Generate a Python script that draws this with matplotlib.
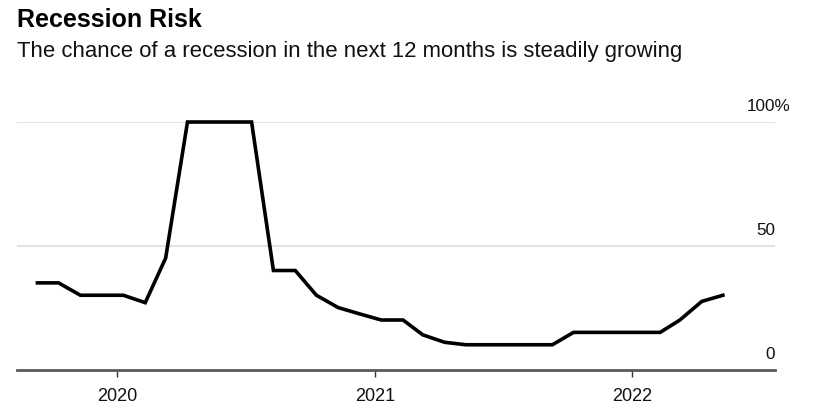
from matplotlib import pyplot as plt
import pandas as pd

plt.rcParams['font.family'] = ['Liberation Sans', 'DejaVu Sans']

# Monthly recession probability, Sep 2019 - May 2022 (%)
months = pd.date_range('2019-09-01', '2022-05-01', freq='MS') + pd.Timedelta(days=9)
risk = [35, 35, 30, 30,                                  # Sep-Dec 2019
        30, 27, 45, 100, 100, 100, 100, 40, 40, 30, 25, 22.5,  # 2020
        20, 20, 14, 11, 10, 10, 10, 10, 10, 15, 15, 15,  # 2021
        15, 15, 20, 27.5, 30]                            # Jan-May 2022

year_ticks = pd.to_datetime(['2020-01-01', '2021-01-01', '2022-01-01'])
year_labels = ['2020', '2021', '2022']
y_levels = [0, 50, 100]
y_labels = ['0', '50', '100%']

fig = plt.figure(figsize=(8.15, 4.17), dpi=100)
ax = fig.add_axes([17/815, 1 - 369.5/417, (775 - 17)/815, (369.5 - 122)/417])

ax.plot(months, risk, color='black', lw=2.6, solid_joinstyle='miter', clip_on=False, zorder=3)

ax.set_xlim(pd.Timestamp('2019-08-12'), pd.Timestamp('2022-07-23'))
ax.set_ylim(0, 100)

for v in y_levels[1:]:
    ax.axhline(v, color='#dddddd', lw=1.2, zorder=1)

# right-side value labels sitting above the gridlines
for v, lab in zip(y_levels, y_labels):
    xpos = 1.0198 if lab.endswith('%') else 1.0
    ax.text(xpos, v + 4.4, lab, transform=ax.get_yaxis_transform(),
            ha='right', va='baseline', fontsize=12.3, color='#111111')

for s in ['top', 'right', 'left']:
    ax.spines[s].set_visible(False)
ax.spines['bottom'].set_color('#5a5a5a')
ax.spines['bottom'].set_linewidth(2)
ax.set_yticks([])
ax.set_xticks(year_ticks)
ax.set_xticklabels(year_labels, fontsize=13, color='#111111')
ax.tick_params(axis='x', length=5, width=1, color='#333333', pad=8.5)

fig.text(17/815, 1 - 27/417, 'Recession Risk', fontsize=18, fontweight='bold', va='baseline')
fig.text(17/815, 1 - 57/417, 'The chance of a recession in the next 12 months is steadily growing',
         fontsize=15.9, va='baseline', color='#111111')

fig.savefig('out.png', dpi=100)
